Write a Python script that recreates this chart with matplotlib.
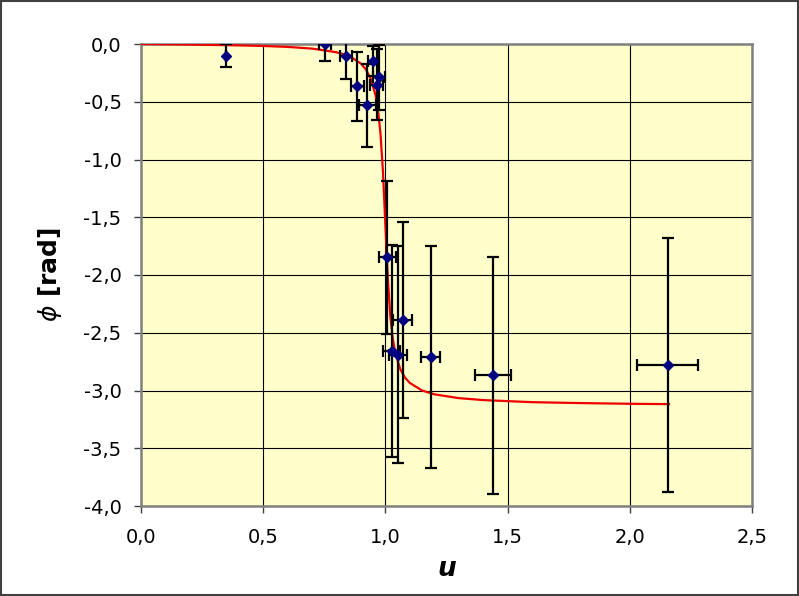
import matplotlib
matplotlib.use("Agg")
import matplotlib.pyplot as plt
from matplotlib.ticker import FuncFormatter
from matplotlib.patches import Rectangle

# measured points
u_data = [0.348, 0.753, 0.838, 0.885, 0.926, 0.950, 0.964, 0.975,
          1.008, 1.025, 1.052, 1.070, 1.185, 1.440, 2.155]
phi_data = [-0.10, 0.00, -0.10, -0.366, -0.531, -0.145, -0.352, -0.288,
            -1.847, -2.66, -2.69, -2.39, -2.71, -2.87, -2.78]
u_err = [0.0, 0.025, 0.025, 0.026, 0.035, 0.02, 0.025, 0.025,
         0.035, 0.033, 0.036, 0.04, 0.04, 0.075, 0.125]
phi_err = [0.10, 0.15, 0.20, 0.30, 0.36, 0.13, 0.31, 0.28,
           0.66, 0.92, 0.94, 0.85, 0.96, 1.03, 1.10]

# theoretical curve
u_curve = [0.0, 0.2, 0.4, 0.5, 0.6, 0.7, 0.75, 0.8, 0.85, 0.9, 0.92, 0.94,
           0.96, 0.97, 0.98, 0.99, 1.0, 1.01, 1.02, 1.03, 1.04, 1.06, 1.08,
           1.1, 1.15, 1.2, 1.3, 1.4, 1.6, 1.8, 2.0, 2.16]
phi_curve = [0.0, -0.005, -0.012, -0.017, -0.025, -0.040, -0.055, -0.072,
             -0.100, -0.170, -0.220, -0.300, -0.445, -0.575, -0.780, -1.105,
             -1.571, -2.032, -2.351, -2.547, -2.670, -2.811, -2.888, -2.935,
             -3.000, -3.033, -3.066, -3.083, -3.101, -3.109, -3.115, -3.118]

x_ticks = [0.0, 0.5, 1.0, 1.5, 2.0, 2.5]
y_ticks = [0.0, -0.5, -1.0, -1.5, -2.0, -2.5, -3.0, -3.5, -4.0]

fig = plt.figure(figsize=(7.99, 5.96), dpi=100)
fig.patch.set_facecolor("white")
ax = fig.add_axes([141/799, 90/596, (752-141)/799, (506-44)/596])
ax.set_facecolor("#FFFFCC")

ax.set_xlim(0, 2.5)
ax.set_ylim(-4.0, 0.0)
ax.set_xticks(x_ticks)
ax.set_yticks(y_ticks)
ax.grid(True, color="black", linewidth=0.8, zorder=1)
ax.set_axisbelow(True)

fmt = FuncFormatter(lambda v, p: f"{v:.1f}".replace(".", ",").replace("-0,0", "0,0"))
ax.xaxis.set_major_formatter(fmt)
ax.yaxis.set_major_formatter(fmt)
ax.tick_params(axis="both", direction="out", length=5, width=1,
               color="#404040", labelsize=14, labelcolor="black")
ax.tick_params(axis="y", pad=9)
ax.tick_params(axis="x", pad=11)

for s in ax.spines.values():
    s.set_color("#808080")
    s.set_linewidth(1.8)

ax.plot(u_curve, phi_curve, color="#EE0000", linewidth=1.6, zorder=3)
ax.errorbar(u_data, phi_data, xerr=u_err, yerr=phi_err, fmt="D",
            color="#000080", markersize=5, ecolor="black", elinewidth=1.6,
            capsize=4, capthick=1.6, zorder=4)

ax.set_xlabel("u", fontsize=19, fontweight="bold", fontstyle="italic", labelpad=6)
ax.set_ylabel(r"$\phi$ [rad]", fontsize=18, fontweight="bold", labelpad=14)

fig.add_artist(Rectangle((0.001, 0.001), 0.998, 0.997, transform=fig.transFigure,
                         fill=False, edgecolor="#404040", linewidth=1.5))

fig.savefig("out.png", dpi=100, facecolor="white")
